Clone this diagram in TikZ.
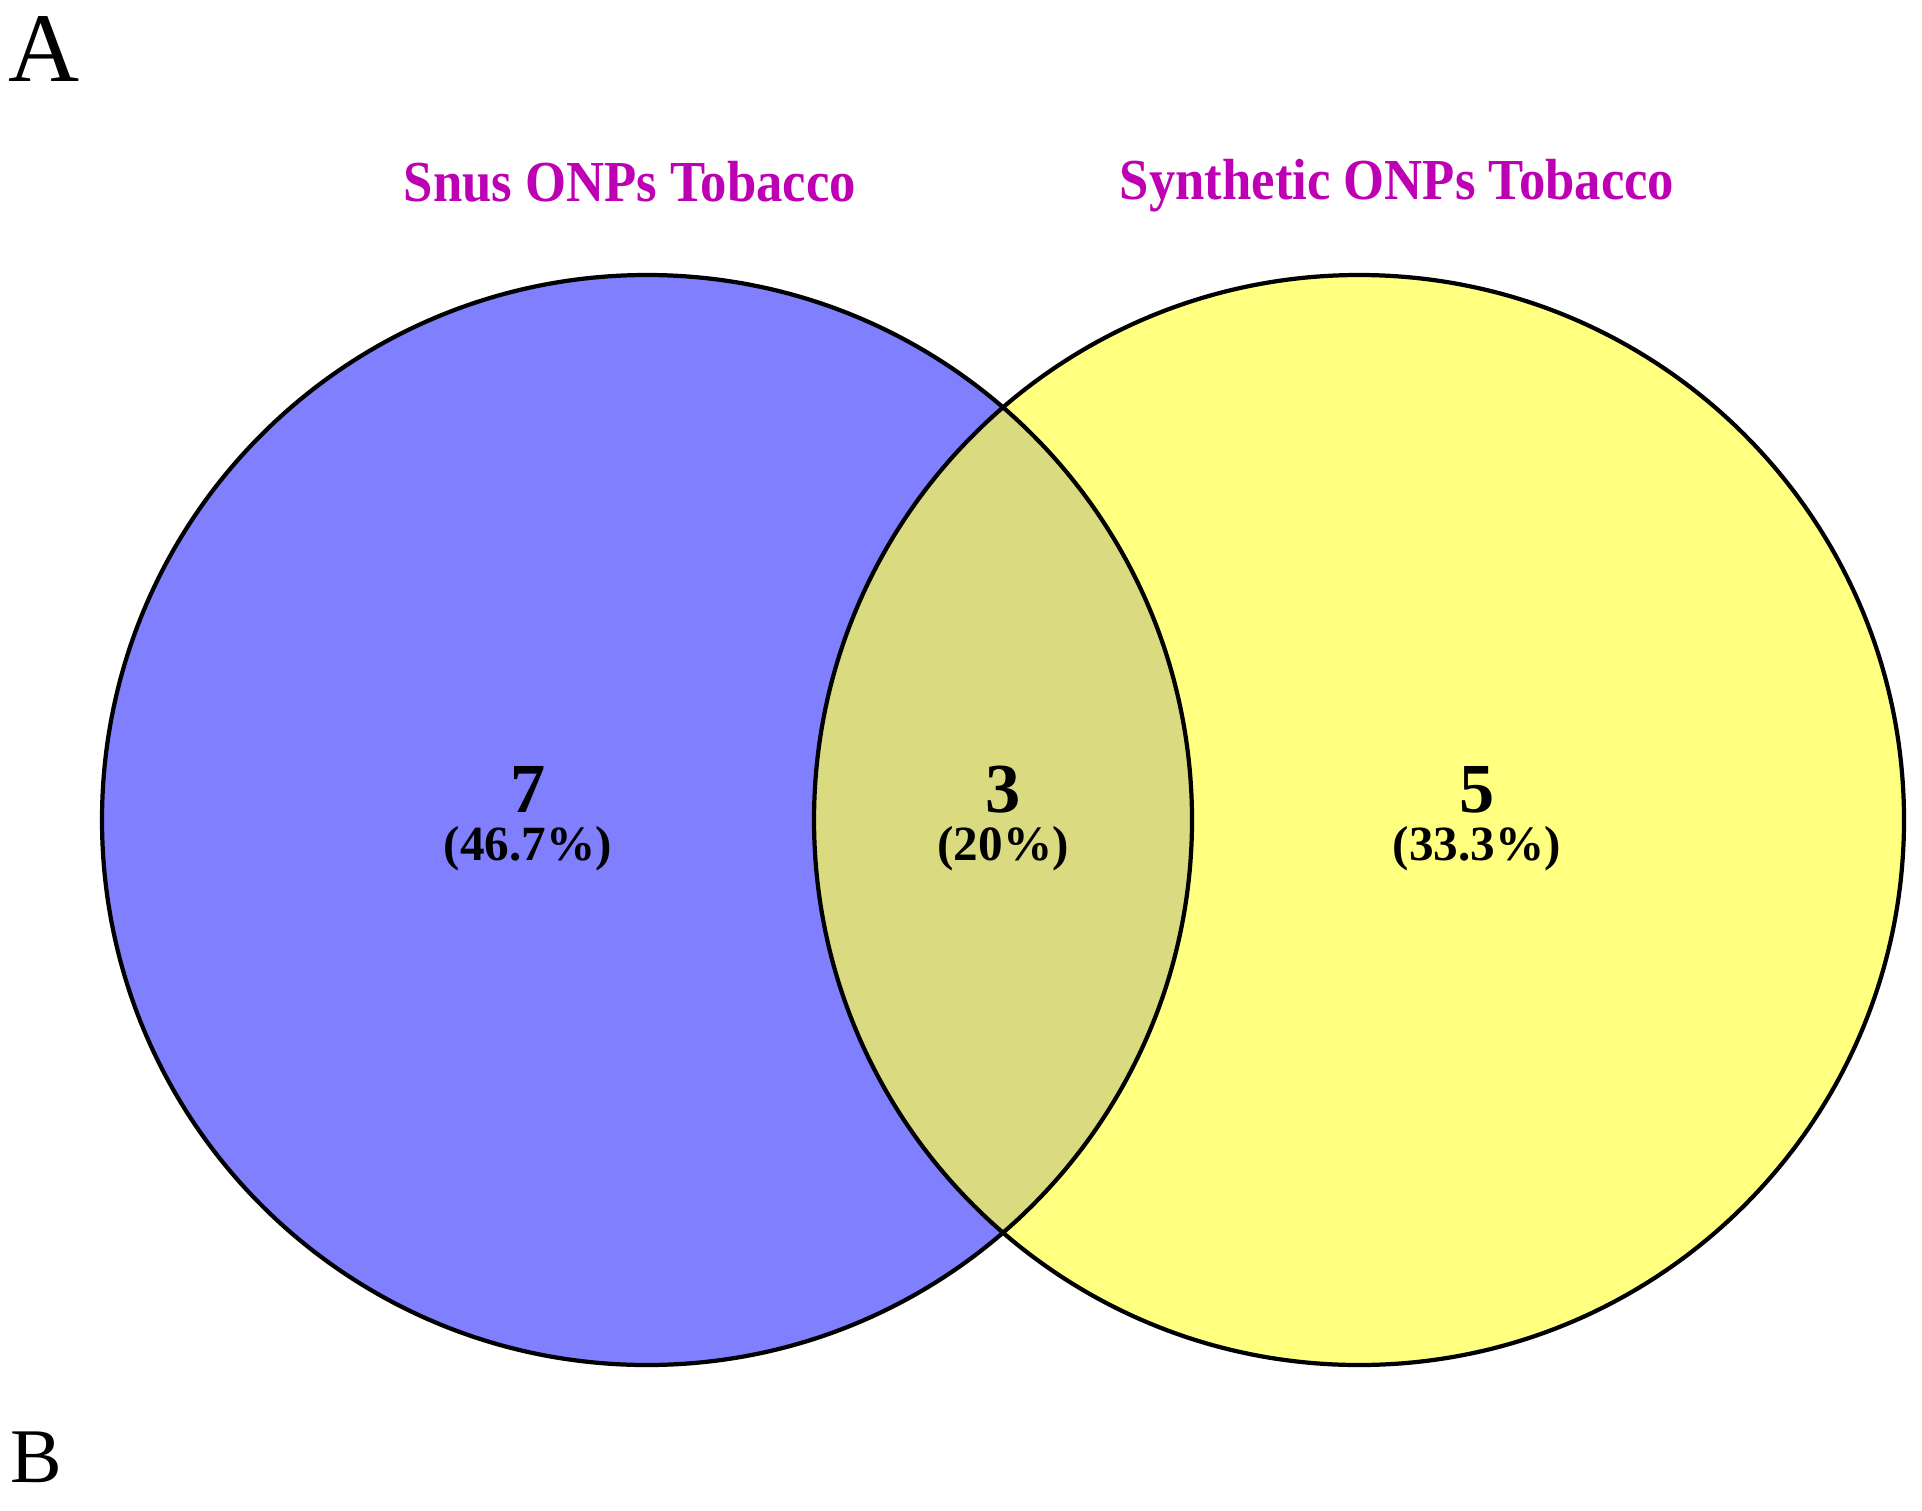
\documentclass[tikz,border=0pt]{standalone}
\usepackage{fontspec}
\usepackage{xcolor}
\usepackage{tikz}
\setmainfont{Liberation Serif}

\definecolor{snusblue}{RGB}{128,128,255}
\definecolor{synthyellow}{RGB}{255,255,128}
\definecolor{overlapolive}{RGB}{218,218,128}
\definecolor{setlabel}{RGB}{190,0,180}

\begin{document}
\begin{tikzpicture}[x=0.1mm, y=0.1mm,
    setdisc/.style={circle, fill=#1, minimum size=109mm, inner sep=0pt},
    rim/.style={draw=black, line width=1.2pt},
    setname/.style={font=\fontsize{15}{18}\selectfont\bfseries, text=setlabel, anchor=base, yscale=1.1},
    count/.style={font=\fontsize{20}{24}\selectfont\bfseries, anchor=base},
    share/.style={font=\fontsize{14}{17}\selectfont\bfseries, anchor=base},
    panel/.style={anchor=base west, inner sep=0pt}
]
    \useasboundingbox (0,0) rectangle (1922,1510);

    \node[panel, font=\fontsize{28}{31}\selectfont] (panelA) at (8,1428) {A};
    \node[panel, font=\fontsize{22}{26}\selectfont] (panelB) at (10,28) {B};

    \node[setdisc=snusblue] (snus) at (647,690) {};
    \node[setdisc=synthyellow] (synth) at (1359,690) {};
    \begin{scope}
        \clip (snus.center) circle (54.5mm);
        \fill[overlapolive] (synth.center) circle (54.5mm);
    \end{scope}
    \draw[rim] (snus.center) circle (54.5mm);
    \draw[rim] (synth.center) circle (54.5mm);

    \node[setname] (snusname) at (630,1308) {Snus ONPs Tobacco};
    \node[setname] (synthname) at (1397,1310) {Synthetic ONPs Tobacco};

    \node[count] (onlysnus) at (528,698) {7};
    \node[share] at (528,650) {(46.7\%)};
    \node[count] (both) at (1003,698) {3};
    \node[share] at (1003,650) {(20\%)};
    \node[count] (onlysynth) at (1477,698) {5};
    \node[share] at (1477,650) {(33.3\%)};
\end{tikzpicture}
\end{document}
